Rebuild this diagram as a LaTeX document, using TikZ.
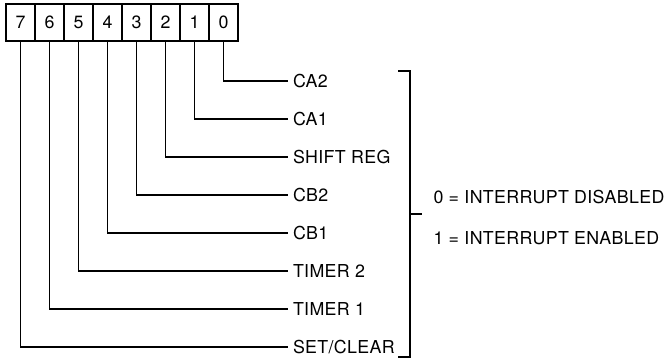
\documentclass[tikz,border=0pt]{standalone}
\usepackage{fontspec}
\setmainfont{TeX Gyre Heros}[LetterSpace=2]
\usetikzlibrary{positioning}

\begin{document}
\begin{tikzpicture}[x=1pt, y=-1pt, font=\fontsize{17.8}{20}\selectfont, line width=1.1pt,
  bitbox/.style={draw, minimum width=29pt, minimum height=37pt, inner sep=0pt, outer sep=0pt},
  bitlabel/.style={anchor=west, inner sep=0pt, outer sep=5pt}]
\useasboundingbox (0,0) rectangle (670,359);
% register cells, bit 7 on the left
\foreach \b in {0,...,7} {
  \node[bitbox] (b\b) at ({223.5-29*\b},22.5) {\b};
}
% one line per bit
\foreach \b/\name in {0/CA2, 1/CA1, 2/SHIFT REG, 3/CB2, 4/CB1, 5/TIMER 2, 6/TIMER 1, 7/{SET/CLEAR}} {
  \node[bitlabel] (l\b) at (288,{81+38*\b}) {\name};
  \draw (b\b.south) |- (l\b.west);
}
% bracket and meaning
\draw (398,71) -- (410,71) -- (410,357) -- (398,357);
\draw (410,214) -- (422,214);
\node[anchor=west, inner sep=0pt] (off) at (433,197) {0 = INTERRUPT DISABLED};
\node[anchor=west, inner sep=0pt] (on) at (433,238) {1 = INTERRUPT ENABLED};
\end{tikzpicture}
\end{document}
